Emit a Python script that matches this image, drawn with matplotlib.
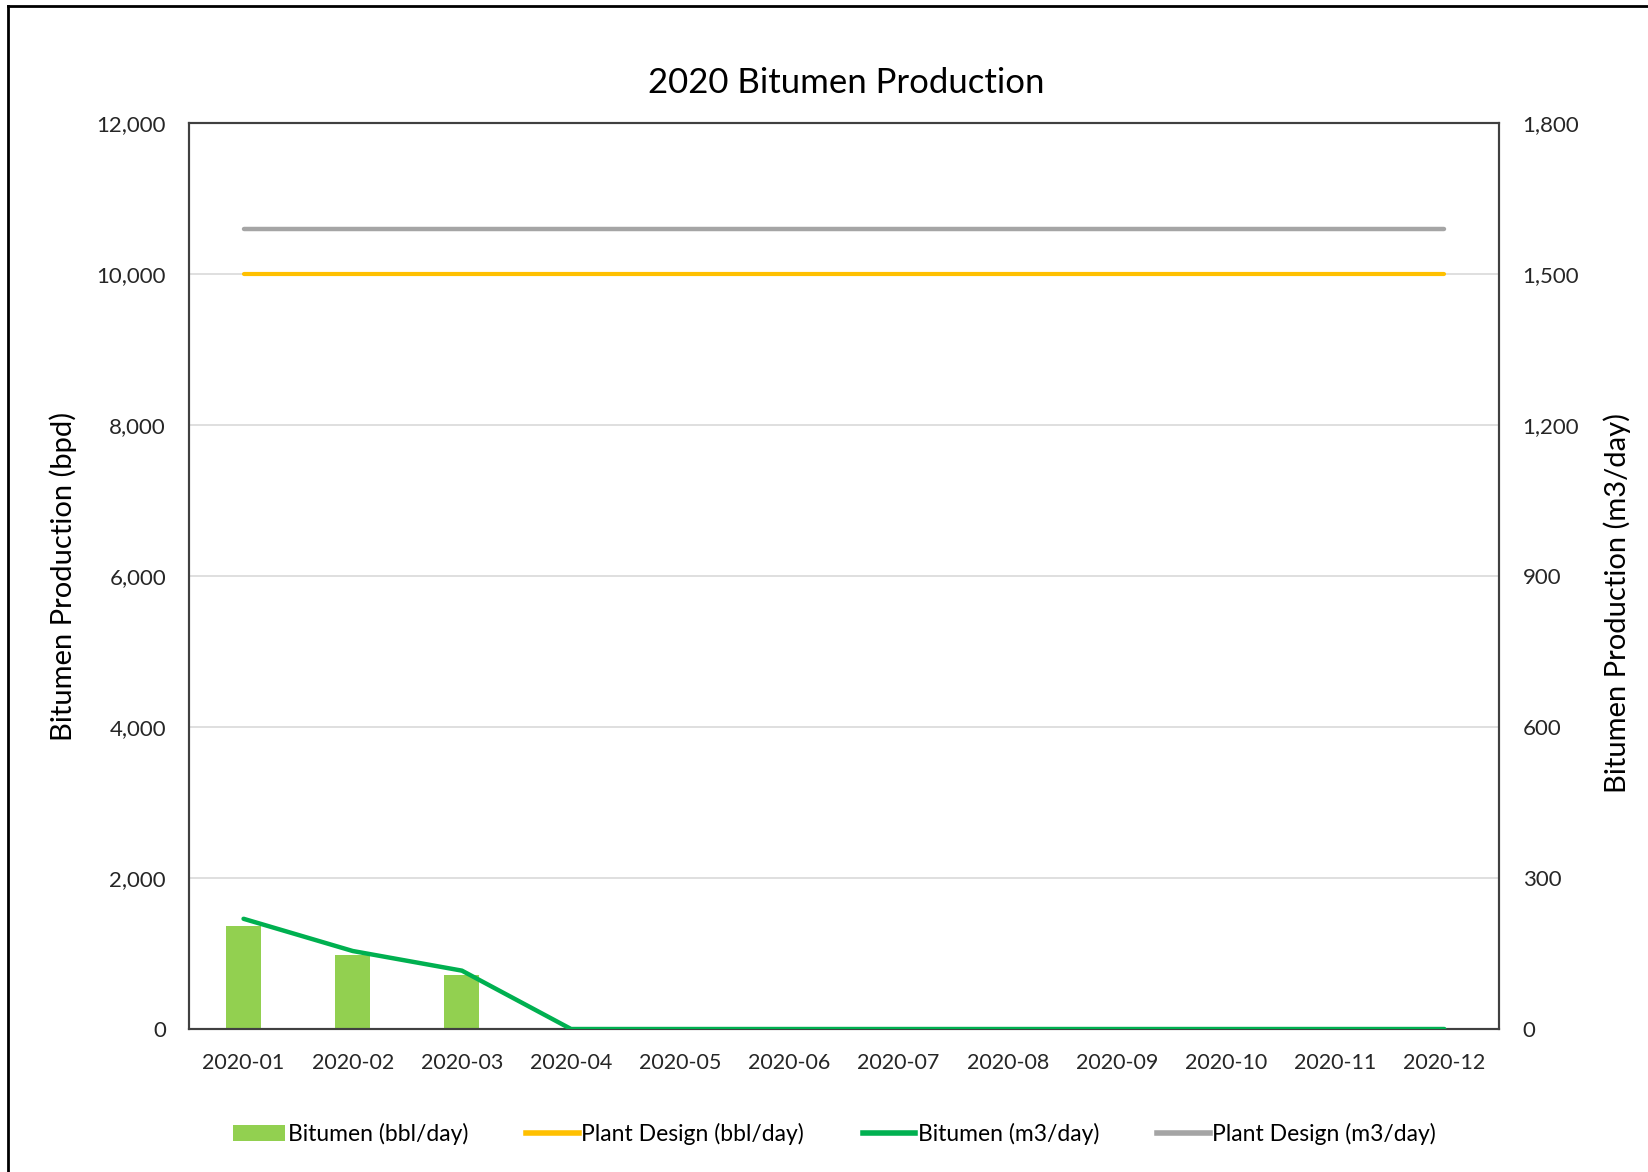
import matplotlib
matplotlib.use("Agg")
import matplotlib.pyplot as plt
from matplotlib.lines import Line2D
from matplotlib.patches import Patch
from matplotlib.ticker import FuncFormatter
import numpy as np

plt.rcParams['font.family'] = ['Lato', 'DejaVu Sans']

months = ["2020-01", "2020-02", "2020-03", "2020-04", "2020-05", "2020-06",
          "2020-07", "2020-08", "2020-09", "2020-10", "2020-11", "2020-12"]
bitumen_bbl = [1370, 975, 712, 0, 0, 0, 0, 0, 0, 0, 0, 0]
plant_design_bbl = [10000] * 12
bitumen_m3 = [219, 155, 116, 0, 0, 0, 0, 0, 0, 0, 0, 0]
plant_design_m3 = [1590] * 12

left_ticks = [0, 2000, 4000, 6000, 8000, 10000, 12000]
right_ticks = [0, 300, 600, 900, 1200, 1500, 1800]

fig = plt.figure(figsize=(16.49, 11.72), dpi=100)
ax = fig.add_axes([0.1146, 0.122, 0.909 - 0.1146, 0.895 - 0.122])
ax2 = ax.twinx()

x = np.arange(len(months))
ax.bar(x, bitumen_bbl, width=0.32, color="#92D050", zorder=2, label="Bitumen (bbl/day)")
ax.plot(x, plant_design_bbl, color="#FFC000", lw=3, solid_capstyle='round', zorder=3,
        label="Plant Design (bbl/day)")
ax2.plot(x, bitumen_m3, color="#00B050", lw=3.2, solid_capstyle='round', zorder=3,
         label="Bitumen (m3/day)")
ax2.plot(x, plant_design_m3, color="#A5A5A5", lw=3.2, solid_capstyle='round', zorder=3,
         label="Plant Design (m3/day)")

ax.set_xlim(-0.5, len(months) - 0.5)
ax.set_ylim(0, 12000)
ax2.set_ylim(0, 1800)
ax.set_yticks(left_ticks)
ax2.set_yticks(right_ticks)
fmt = FuncFormatter(lambda v, p: f"{int(v):,}")
ax.yaxis.set_major_formatter(fmt)
ax2.yaxis.set_major_formatter(fmt)
ax.set_xticks(x)
ax.set_xticklabels(months)

ax.grid(axis='y', color="#D9D9D9", lw=1.2, zorder=0)
ax.set_axisbelow(True)
ax.tick_params(axis='y', length=0, labelsize=16, colors="#262626", pad=16.5)
ax.tick_params(axis='x', length=0, labelsize=15.5, colors="#262626", pad=17)
ax2.tick_params(axis='y', length=0, labelsize=16, colors="#262626", pad=17)

for a in (ax, ax2):
    for s in a.spines.values():
        s.set_color("#404040")
        s.set_linewidth(1.5)

ax.set_ylabel("Bitumen Production (bpd)", fontsize=21, color="black",
              ha='center', va='center')
ax.yaxis.set_label_coords(-0.096, 0.5)
ax2.set_ylabel("Bitumen Production (m3/day)", fontsize=21, color="black",
               ha='center', va='center')
ax2.yaxis.set_label_coords(1.0905, 0.47)

fig.text(0.513, 0.929, "2020 Bitumen Production", ha='center', va='center', fontsize=25, color="black")

handles = [Patch(facecolor="#92D050", label="Bitumen (bbl/day)"),
           Line2D([], [], color="#FFC000", lw=4, label="Plant Design (bbl/day)"),
           Line2D([], [], color="#00B050", lw=4, label="Bitumen (m3/day)"),
           Line2D([], [], color="#A5A5A5", lw=4, label="Plant Design (m3/day)")]
fig.legend(handles=handles, loc='center', bbox_to_anchor=(0.506, 0.0325), ncol=4,
           frameon=False, fontsize=16.5, handlelength=2.3, handletextpad=0.1,
           columnspacing=2.55)

fig.add_artist(Line2D([0.0049, 0.0049], [0, 0.9949], transform=fig.transFigure, color='black', lw=2))
fig.add_artist(Line2D([0.0049, 1.0], [0.9949, 0.9949], transform=fig.transFigure, color='black', lw=2))

fig.savefig("out.png", dpi=100)
